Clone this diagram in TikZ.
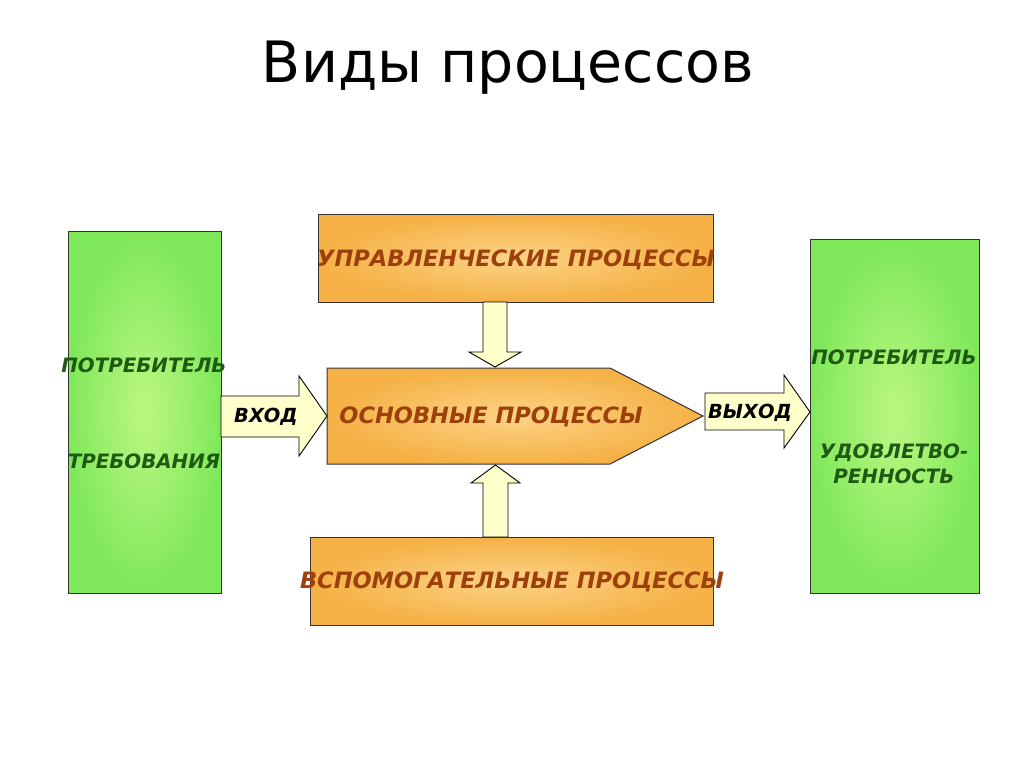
\documentclass[tikz,border=0pt]{standalone}
\usepackage{fontspec}
\setmainfont{DejaVu Sans}
\definecolor{grEdge}{HTML}{7FE85A}
\definecolor{grMid}{HTML}{BDF783}
\definecolor{orEdge}{HTML}{F5B145}
\definecolor{orMid}{HTML}{FCD386}
\definecolor{arFill}{HTML}{FFFFCC}
\definecolor{brownTxt}{HTML}{9E400C}
\definecolor{greenTxt}{HTML}{1F5A14}
\begin{document}
\begin{tikzpicture}[x=1pt,y=-1pt,
  greenbox/.style={draw=black!80,line width=1pt,inner color=grMid,outer color=grEdge},
  orangebox/.style={draw=black!80,line width=1pt,inner color=orMid,outer color=orEdge},
  blockarrow/.style={draw=black,line width=0.9pt,fill=arFill,line join=miter},
  otxt/.style={font=\bfseries\itshape\fontsize{22.5}{26}\selectfont,text=brownTxt,inner sep=0pt},
  gtxt/.style={font=\bfseries\itshape\fontsize{19.8}{25}\selectfont,text=greenTxt,inner sep=0pt,align=center},
  atxt/.style={font=\bfseries\itshape\fontsize{19.4}{22}\selectfont,text=black,inner sep=0pt}]
\useasboundingbox[fill=white] (0,0) rectangle (1024,768);
\node[font=\fontsize{57}{60}\selectfont] (title) at (508,68) {Виды процессов};
% boxes
\path[greenbox] (68,231) rectangle (221,593);
\node[inner sep=0pt,minimum width=153pt,minimum height=362pt] (left) at (144.5,412) {};
\path[greenbox] (810,239) rectangle (979,593);
\node[inner sep=0pt,minimum width=169pt,minimum height=354pt] (right) at (894.5,416) {};
\path[orangebox] (318,214) rectangle (713,302);
\node[inner sep=0pt,minimum width=395pt,minimum height=88pt] (top) at (515.5,258) {};
\path[orangebox] (310,537) rectangle (713,625);
\node[inner sep=0pt,minimum width=403pt,minimum height=88pt] (bottom) at (511.5,581) {};
\path[orangebox] (327,368) -- (610,368) -- (703,416) -- (610,464) -- (327,464) -- cycle;
\node[inner sep=0pt,minimum width=376pt,minimum height=96pt] (main) at (515,416) {};
% block arrows
\draw[blockarrow] (483,302) -- (507,302) -- (507,352) -- (521,352) -- (495,367) -- (469,352) -- (483,352) -- cycle;
\draw[blockarrow] (483,537) -- (508,537) -- (508,483) -- (520,483) -- (495.5,465) -- (471,483) -- (483,483) -- cycle;
\draw[blockarrow] (221,396) -- (299,396) -- (299,376) -- (327,416) -- (299,456) -- (299,437) -- (221,437) -- cycle;
\draw[blockarrow] (705,393) -- (784,393) -- (784,375) -- (810,412) -- (784,448) -- (784,430) -- (705,430) -- cycle;
% texts
\node[otxt] (ttop) at (516,260) {УПРАВЛЕНЧЕСКИЕ ПРОЦЕССЫ};
\node[otxt] (tmain) at (491,417) {ОСНОВНЫЕ ПРОЦЕССЫ};
\node[otxt] (tbottom) at (512,582) {ВСПОМОГАТЕЛЬНЫЕ ПРОЦЕССЫ};
\node[gtxt] (l1) at (144,365) {ПОТРЕБИТЕЛЬ};
\node[gtxt] (l2) at (144,461) {ТРЕБОВАНИЯ};
\node[gtxt] (r1) at (894,357) {ПОТРЕБИТЕЛЬ};
\node[gtxt] (r2) at (894,464) {УДОВЛЕТВО-\\РЕННОСТЬ};
\node[atxt] (in) at (266,417) {ВХОД};
\node[atxt] (out) at (750,413) {ВЫХОД};
\end{tikzpicture}
\end{document}
